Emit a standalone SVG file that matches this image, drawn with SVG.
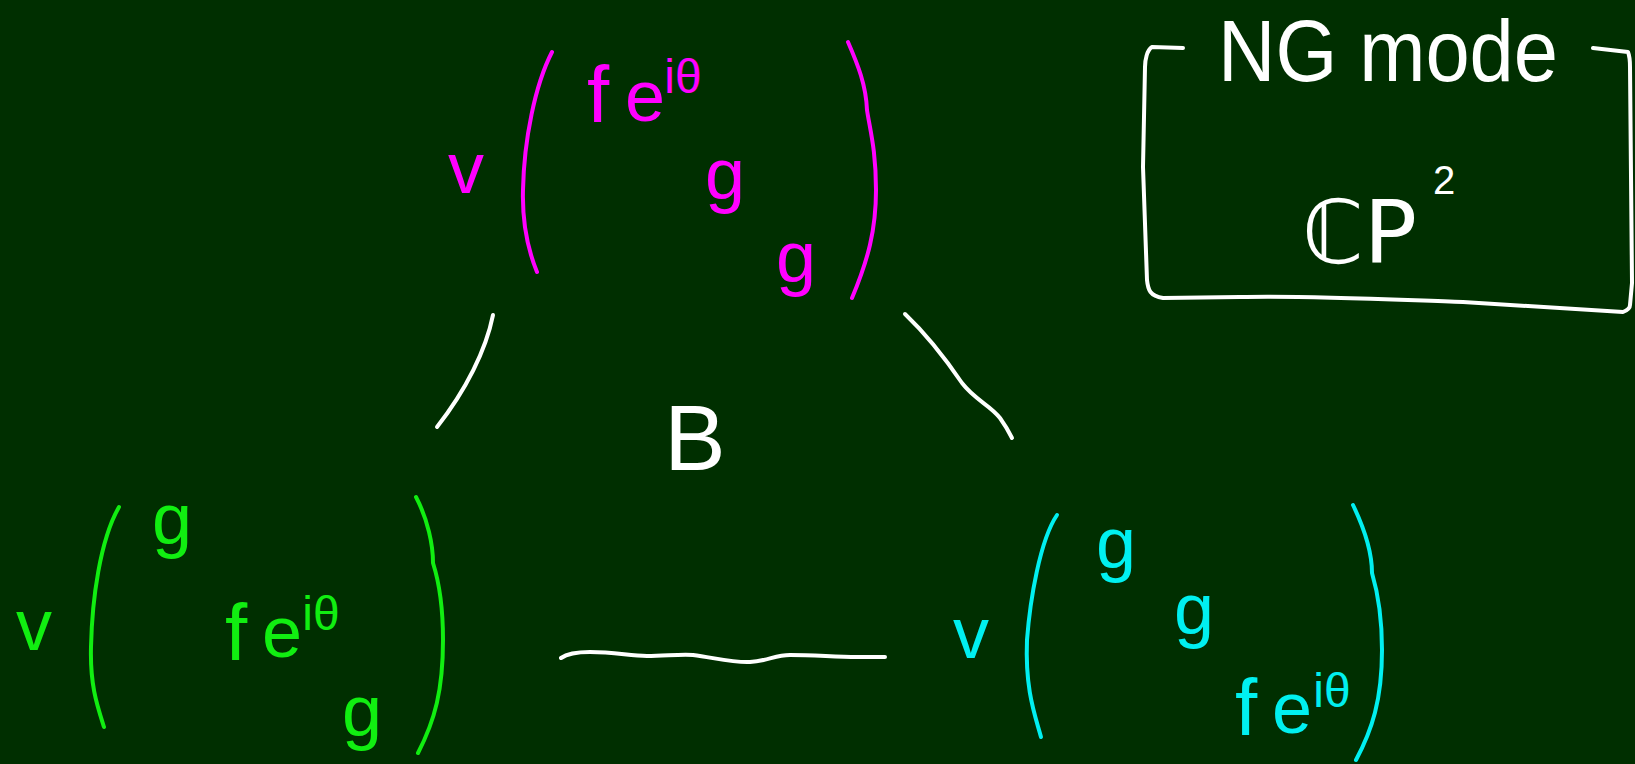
<svg xmlns="http://www.w3.org/2000/svg" width="1635" height="764" viewBox="0 0 1635 764">
<style>
.s{fill:none;stroke-width:4;stroke-linecap:round;stroke-linejoin:round}
.t{font-family:"Liberation Sans","DejaVu Sans",sans-serif;text-anchor:middle}
.m{stroke:#ff00ff}.mt{fill:#ff00ff}
.gr{stroke:#11ee11}.gt{fill:#11ee11}
.c{stroke:#00f0f0}.ct{fill:#00f0f0}
.w{stroke:#ffffff}.wt{fill:#ffffff}
</style>
<rect width="1635" height="764" fill="#002f00"/>
<g id="node-magenta">
<text class="t mt" x="466" y="193" font-size="72">v</text>
<path class="s m" d="M552,52 C535,85 524,140 523,190 C522,225 528,250 537,272"/>
<text class="t mt" x="598" y="122" font-size="80">f</text>
<text class="t mt" x="645" y="121" font-size="72">e</text>
<text class="t mt" x="683" y="93" font-size="48">iθ</text>
<text class="t mt" x="725" y="199" font-size="72">g</text>
<text class="t mt" x="796" y="282" font-size="72">g</text>
<path class="s m" d="M848,42 C858,65 866,85 867,110 C870,130 876,150 876,190 C876,230 868,260 852,298"/>
</g>
<g id="node-green">
<text class="t gt" x="34" y="650" font-size="72">v</text>
<path class="s gr" d="M119,507 C100,540 92,600 91,647 C90,685 97,705 104,727"/>
<text class="t gt" x="172" y="544" font-size="72">g</text>
<text class="t gt" x="236" y="660" font-size="80">f</text>
<text class="t gt" x="282" y="657" font-size="72">e</text>
<text class="t gt" x="321" y="630" font-size="48">iθ</text>
<text class="t gt" x="362" y="736" font-size="72">g</text>
<path class="s gr" d="M416,497 C428,520 433,545 433,563 C440,585 443,610 443,640 C443,690 435,720 418,753"/>
</g>
<g id="node-cyan">
<text class="t ct" x="971" y="658" font-size="72">v</text>
<path class="s c" d="M1057,515 C1040,540 1030,600 1027,640 C1025,690 1035,715 1041,737"/>
<text class="t ct" x="1116" y="568" font-size="72">g</text>
<text class="t ct" x="1194" y="634" font-size="72">g</text>
<text class="t ct" x="1246" y="735" font-size="80">f</text>
<text class="t ct" x="1292" y="733" font-size="72">e</text>
<text class="t ct" x="1332" y="707" font-size="48">iθ</text>
<path class="s c" d="M1353,505 C1365,530 1372,555 1372,573 C1380,600 1382,625 1382,650 C1382,700 1372,730 1356,760"/>
</g>
<g id="node-center">
<text class="t wt" x="695" y="470" font-size="92">B</text>
</g>
<g id="node-box">
<path class="s w" d="M1183,48 L1152,47 C1147,50 1145,60 1145,67 L1143,167 L1147,280 C1148,290 1150,296 1163,298 L1240,297 C1300,295 1400,300 1463,302 L1623,312 C1628,310 1630,308 1630,305 L1632,283 L1630,67 C1630,57 1628,52 1628,52 L1593,48"/>
<text class="wt" x="1218" y="81" font-size="88" font-family="Liberation Sans, DejaVu Sans, sans-serif" textLength="340" lengthAdjust="spacingAndGlyphs">NG mode</text>
<text class="wt" x="1302" y="263" font-size="88" font-family="DejaVu Sans, sans-serif" textLength="115" lengthAdjust="spacingAndGlyphs">ℂP</text>
<text class="wt" x="1444" y="194" font-size="40" font-family="Liberation Sans, sans-serif" text-anchor="middle">2</text>
</g>
<g id="connectors">
<path class="s w" d="M493,315 C486,350 466,390 437,427"/>
<path class="s w" d="M905,314 C925,333 945,358 962,383 C975,400 990,405 1000,418 C1005,425 1009,432 1012,438"/>
<path class="s w" d="M561,658 C568,653 578,652 590,652 C615,652 630,656 647,656 C665,656 680,654 693,655 C715,658 735,663 750,662 C768,661 775,655 790,655 C815,655 835,657 857,657 L885,657"/>
</g>
</svg>
